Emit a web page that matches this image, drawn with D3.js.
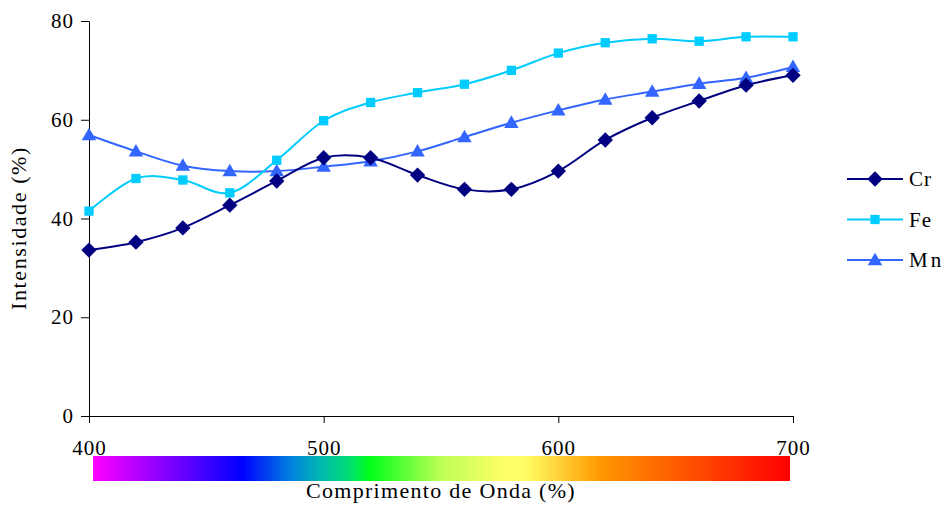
<!DOCTYPE html>
<html><head><meta charset="utf-8">
<script src="https://cdn.jsdelivr.net/npm/d3@7/dist/d3.min.js"></script>
<style>body{margin:0;background:#fff}svg{display:block}</style>
</head><body><svg id="c" width="949" height="506"></svg>
<script>
const wavelengths = [400,420,440,460,480,500,520,540,560,580,600,620,640,660,680,700];
const crValues = [33.6,35.2,38.1,42.7,47.6,52.3,52.3,48.8,45.9,45.9,49.6,55.9,60.4,63.8,67.0,69.0];
const feValues = [41.5,48.1,47.8,45.2,51.8,59.8,63.5,65.5,67.2,70.0,73.5,75.6,76.4,75.9,76.8,76.8];
const mnValues = [56.9,53.6,50.7,49.6,49.6,50.5,51.6,53.6,56.5,59.4,61.9,64.1,65.7,67.3,68.5,70.7];
const seriesNames = ["Cr","Fe","Mn"];
const xTicks = [400,500,600,700];
const yTicks = [0,20,40,60,80];
const xTitle = "Comprimento de Onda (%)";
const yTitle = "Intensidade (%)";

const FONT = "Liberation Serif";
const colors = {Cr:"#000080", Fe:"#00CCFF", Mn:"#3366FF"};
const symbols = {Cr:d3.symbolDiamond2, Fe:d3.symbolSquare2, Mn:d3.symbolTriangle2};
const symSize = {Cr:150, Fe:110, Mn:150};
const valuesBy = {Cr:crValues, Fe:feValues, Mn:mnValues};

const svg = d3.select("#c");
const x = d3.scaleLinear().domain([400,700]).range([89,793]);
const y = d3.scaleLinear().domain([0,80]).range([416,21]);

// axes
const yAxis = svg.append("g").attr("transform","translate(89,0)")
  .call(d3.axisLeft(y).tickValues(yTicks).tickSize(8).tickPadding(7).tickSizeOuter(0));
const xAxis = svg.append("g").attr("transform","translate(0,416)")
  .call(d3.axisBottom(x).tickValues(xTicks).tickSize(7).tickPadding(17).tickSizeOuter(0));
[yAxis,xAxis].forEach(a=>{
  a.attr("font-family",FONT).attr("font-size",21);
  a.selectAll("path,line").attr("stroke","#000").attr("stroke-width",1);
  a.selectAll("text").attr("letter-spacing","1px").attr("fill","#000");
});

// spectrum bar
const defs = svg.append("defs");
const grad = defs.append("linearGradient").attr("id","spec").attr("x1","0%").attr("x2","100%");
[[0,"#ff00ff"],[0.215,"#0000ff"],[0.283,"#0080e0"],[0.326,"#00b8b0"],[0.369,"#00e070"],[0.397,"#00ff1a"],
 [0.498,"#bbff55"],[0.591,"#ffff66"],[0.620,"#ffff66"],[0.727,"#ff9900"],[1,"#ff0000"]]
  .forEach(([o,c])=>grad.append("stop").attr("offset",o).attr("stop-color",c));
svg.append("rect").attr("x",93).attr("y",456).attr("width",697).attr("height",25).attr("fill","url(#spec)");

// lines
const line = d3.line().x((d,i)=>x(wavelengths[i])).y(d=>y(d)).curve(d3.curveCardinal.tension(0));
const order = ["Mn","Fe","Cr"];
order.forEach(name=>{
  svg.append("path").datum(valuesBy[name]).attr("d",line).attr("fill","none")
    .attr("stroke",colors[name]).attr("stroke-width",2);
});
order.forEach(name=>{
  svg.append("g").selectAll("path").data(valuesBy[name]).join("path")
    .attr("d",d3.symbol().type(symbols[name]).size(symSize[name]))
    .attr("transform",(d,i)=>`translate(${x(wavelengths[i])},${y(d)+(name==="Mn"?1:0)})`)
    .attr("fill",colors[name]);
});

// titles
svg.append("text").attr("x",441).attr("y",498).attr("text-anchor","middle")
  .attr("font-family",FONT).attr("font-size",22).attr("letter-spacing","1.3px").text(xTitle);
svg.append("text").attr("transform","translate(26,228) rotate(-90)").attr("text-anchor","middle")
  .attr("font-family",FONT).attr("font-size",22).attr("letter-spacing","1.6px").text(yTitle);

// legend
const lg = svg.append("g");
seriesNames.forEach((name,i)=>{
  const cy = 179 + i*40.5;
  lg.append("line").attr("x1",847).attr("x2",903).attr("y1",cy).attr("y2",cy).attr("stroke",colors[name]).attr("stroke-width",2);
  lg.append("path").attr("d",d3.symbol().type(symbols[name]).size(symSize[name]))
    .attr("transform",`translate(875,${cy+(name==="Mn"?1:0)})`).attr("fill",colors[name]);
  lg.append("text").attr("x",909).attr("y",cy+7).attr("font-family",FONT).attr("font-size",21)
    .attr("letter-spacing", name==="Mn"?"3px":"1px").text(name);
});
</script></body></html>
